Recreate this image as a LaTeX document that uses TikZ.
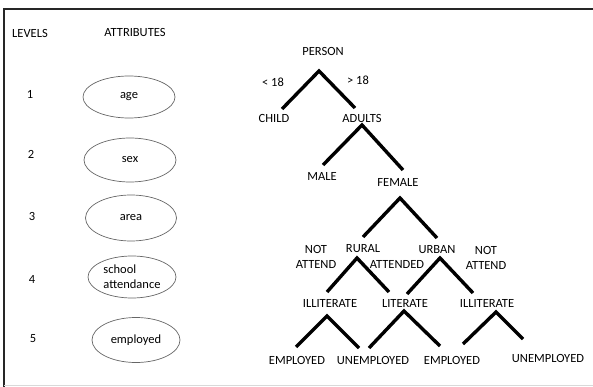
\documentclass[tikz,border=0pt]{standalone}
\usepackage{fontspec}
\setmainfont{Carlito}
\usetikzlibrary{shapes.geometric}

\tikzset{
  lbl/.style={font=\fontsize{12.5}{15}\selectfont, inner sep=0pt, align=center},
  attr/.style={lbl, ellipse, draw=black!60, line width=.7pt, minimum width=92pt, minimum height=42pt},
  branch/.style={line width=3.4pt},
  frame/.style={line width=2.2pt, black!85},
}

\begin{document}
\begin{tikzpicture}[x=1pt,y=-1pt]

      \useasboundingbox (0,0) rectangle (593,387);
      \draw[frame] (593,9) -- (4,9) -- (4,387);
      \draw[black!15, line width=1pt] (4,385) -- (593,385);

      % levels and attributes
      \begin{scope}[every node/.style={lbl}]
        \node (levels) at (30,33)  {LEVELS};
        \node (attrs)  at (135,32) {ATTRIBUTES};
        \node (lv1) at (30,94)  {1};
        \node (lv2) at (31,154) {2};
        \node (lv3) at (32,216) {3};
        \node (lv4) at (32,279) {4};
        \node (lv5) at (33,339) {5};
      \end{scope}

      \node[attr] (age)    at (129,97)  {age};
      \node[attr, minimum height=44pt] (sex)  at (130,160) {sex};
      \node[attr, minimum width=91pt, minimum height=46pt] (area) at (131,218) {area};
      \node[attr, align=left, minimum width=88pt, minimum height=42pt] (school) at (132,277) {school\\attendance};
      \node[attr, minimum width=88pt, minimum height=45pt] (empl) at (136,340) {employed};

      % tree labels
      \begin{scope}[every node/.style={lbl}]
        \node (person)   at (323,51)  {PERSON};
        \node (lt18)     at (273,82)  {< 18};
        \node (gt18)     at (358,80)  {> 18};
        \node (child)    at (274,118) {CHILD};
        \node (adults)   at (362,118) {ADULTS};
        \node (male)     at (322,176) {MALE};
        \node (female)   at (398,182) {FEMALE};
        \node (rural)    at (363,249) {RURAL};
        \node (urban)    at (437,250) {URBAN};
        \node (notattL)  at (316,257) {NOT\\ATTEND};
        \node (attended) at (397,264) {ATTENDED};
        \node (notattR)  at (486,258) {NOT\\ATTEND};
        \node (illitL)   at (330,303) {ILLITERATE};
        \node (literate) at (405,303) {LITERATE};
        \node (illitR)   at (487,303) {ILLITERATE};
        \node (empA)     at (297,360) {EMPLOYED};
        \node (unempA)   at (373,360) {UNEMPLOYED};
        \node (empB)     at (452,360) {EMPLOYED};
        \node (unempB)   at (548,358) {UNEMPLOYED};
      \end{scope}

      % branch points
      \coordinate (person-a) at (319,71);  \coordinate (person-l) at (282,109); \coordinate (person-r) at (355,108);
      \coordinate (adults-a) at (362,125); \coordinate (adults-l) at (323,165); \coordinate (adults-r) at (403,170);
      \coordinate (female-a) at (400,198); \coordinate (female-l) at (363,237); \coordinate (female-r) at (437,238);
      \coordinate (rural-a)  at (357,258); \coordinate (rural-l)  at (327,292); \coordinate (rural-r)  at (389,292);
      \coordinate (urban-a)  at (440,258); \coordinate (urban-l)  at (407,294); \coordinate (urban-r)  at (473,293);
      \coordinate (illitL-a) at (327,316); \coordinate (illitL-l) at (296,347); \coordinate (illitL-r) at (359,348);
      \coordinate (lit-a)    at (404,311); \coordinate (lit-l)    at (369,348); \coordinate (lit-r)    at (440,346);
      \coordinate (illitR-a) at (496,312); \coordinate (illitR-l) at (463,344); \coordinate (illitR-r) at (523,339);

      \foreach \b in {person,adults,female,rural,urban,illitL,lit,illitR}
        \draw[branch] (\b-l) -- (\b-a) -- (\b-r);

    \end{tikzpicture}
\end{document}
